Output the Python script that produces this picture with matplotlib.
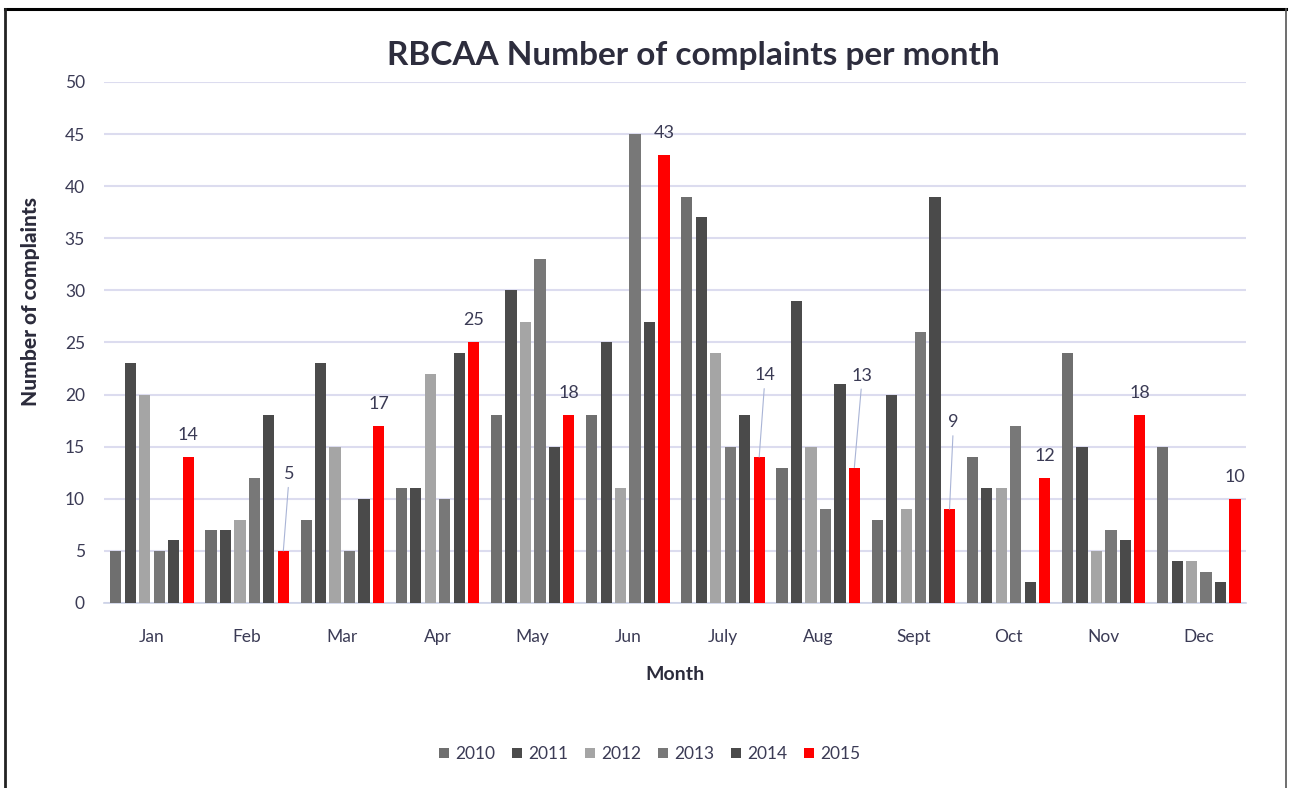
import numpy as np
import matplotlib.pyplot as plt
from matplotlib.lines import Line2D

plt.rcParams['font.family'] = ['Lato', 'DejaVu Sans']

months = ['Jan', 'Feb', 'Mar', 'Apr', 'May', 'Jun', 'July', 'Aug', 'Sept', 'Oct', 'Nov', 'Dec']
years = ['2010', '2011', '2012', '2013', '2014', '2015']

c2010 = [5, 7, 8, 11, 18, 18, 39, 13, 8, 14, 24, 15]
c2011 = [23, 7, 23, 11, 30, 25, 37, 29, 20, 11, 15, 4]
c2012 = [20, 8, 15, 22, 27, 11, 24, 15, 9, 11, 5, 4]
c2013 = [5, 12, 5, 10, 33, 45, 15, 9, 26, 17, 7, 3]
c2014 = [6, 18, 10, 24, 15, 27, 18, 21, 39, 2, 6, 2]
c2015 = [14, 5, 17, 25, 18, 43, 14, 13, 9, 12, 18, 10]
series = [c2010, c2011, c2012, c2013, c2014, c2015]
colors = ['#6f6f6f', '#4b4b4b', '#a5a5a5', '#787878', '#4a4a4a', '#ff0000']

# label offsets (pixels) for the 2015 values, leader line where needed
label_off = [(0, 22), (6, 69), (0, 22), (0, 22), (0, 22), (0, 22),
             (6, 74), (8, 84), (4, 79), (0, 22), (0, 22), (0, 22)]
leader = [False, True, False, False, False, False,
          True, True, True, False, False, False]

fig = plt.figure(figsize=(12.89, 7.88), dpi=100)
ax = fig.add_axes([0.081, 0.2348, 0.886, 0.6612])

x = np.arange(len(months))
step = 0.152
width = 0.118
for i, (vals, col, yr) in enumerate(zip(series, colors, years)):
    ax.bar(x + (i - 2.5) * step, vals, width, color=col, label=yr, zorder=3)

tc = '#3b3b55'
for k, v in enumerate(c2015):
    xi = x[k] + 2.5 * step
    dx, dy = label_off[k]
    if leader[k]:
        ax.annotate(str(v), xy=(xi, v), xytext=(dx, dy), textcoords='offset pixels',
                    ha='center', va='bottom', fontsize=13, color=tc,
                    arrowprops=dict(arrowstyle='-', color='#a9b4d6', lw=0.8,
                                    shrinkA=2, shrinkB=0))
    else:
        ax.annotate(str(v), xy=(xi, v), xytext=(dx, dy), textcoords='offset pixels',
                    ha='center', va='center', fontsize=13, color=tc)

ax.set_xlim(-0.5, 11.5)
ax.set_ylim(0, 50)
ax.set_yticks(range(0, 51, 5))
ax.set_xticks(x)
ax.set_xticklabels(months)
ax.tick_params(axis='both', length=0, labelsize=12.5, labelcolor=tc)
ax.tick_params(axis='x', pad=19)
ax.tick_params(axis='y', pad=14)
ax.grid(axis='y', color='#dcdcef', lw=1.5, zorder=0)
for s in ['top', 'right', 'left']:
    ax.spines[s].set_visible(False)
ax.spines['bottom'].set_color('#ccd2e6')
ax.spines['bottom'].set_linewidth(1.2)

ax.set_xlabel('Month', fontsize=14, fontweight='bold', color='#2b2b3b', labelpad=15)
ax.set_ylabel('Number of complaints', fontsize=15, fontweight='black', color='#2b2b3b', labelpad=16)
ax.yaxis.set_label_coords(-0.056, 0.578)
fig.text(0.538, 0.93, 'RBCAA Number of complaints per month', ha='center', va='center',
         fontsize=24, fontweight='bold', color='#2d2d3d')

leg = fig.legend(loc='center', bbox_to_anchor=(0.504, 0.043), ncol=6, frameon=False,
                 fontsize=12.5, handlelength=0.55, handleheight=0.55, handletextpad=0.35,
                 columnspacing=1.0)
for t in leg.get_texts():
    t.set_color(tc)

# outer frame
fig.add_artist(Line2D([0.004, 0.998], [0.989, 0.989], color='black', lw=2.2, transform=fig.transFigure))
fig.add_artist(Line2D([0.004, 0.004], [0.0, 0.989], color='#222222', lw=2, transform=fig.transFigure))
fig.add_artist(Line2D([0.998, 0.998], [0.0, 0.989], color='#555555', lw=1.2, transform=fig.transFigure))

fig.savefig('out.png', dpi=100, facecolor='white')
